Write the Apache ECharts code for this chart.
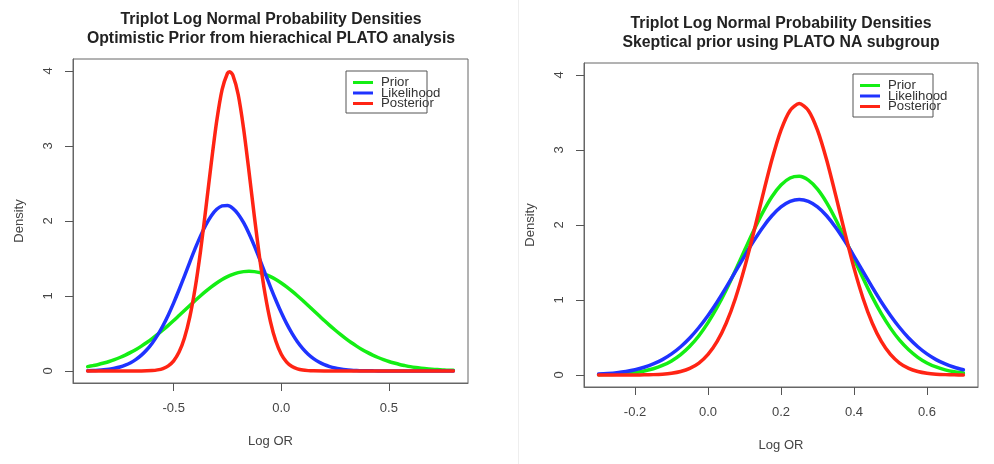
<!DOCTYPE html>
<html><head><meta charset="utf-8">
<script src="https://cdn.jsdelivr.net/npm/echarts@6/dist/echarts.min.js"></script>
<style>html,body{margin:0;padding:0;background:#fff}#c{width:994px;height:464px}</style>
</head><body><div id="c"></div>
<script>
const seriesNames = ['Prior', 'Likelihood', 'Posterior'];
const titleLeft = 'Triplot Log Normal Probability Densities\nOptimistic Prior from hierachical PLATO analysis';
const titleRight = 'Triplot Log Normal Probability Densities\nSkeptical prior using PLATO NA subgroup';
const xName = 'Log OR';
const yName = 'Density';
const leftXTicks = [-0.5, 0, 0.5];
const rightXTicks = [-0.2, 0, 0.2, 0.4, 0.6];
const yTicks = [0, 1, 2, 3, 4];

const leftX = [-0.900,-0.875,-0.850,-0.825,-0.800,-0.775,-0.750,-0.725,-0.700,-0.675,-0.650,-0.625,-0.600,-0.575,-0.550,-0.525,-0.500,-0.475,-0.450,-0.425,-0.400,-0.375,-0.350,-0.325,-0.300,-0.275,-0.250,-0.225,-0.200,-0.175,-0.150,-0.125,-0.100,-0.075,-0.050,-0.025,0.000,0.025,0.050,0.075,0.100,0.125,0.150,0.175,0.200,0.225,0.250,0.275,0.300,0.325,0.350,0.375,0.400,0.425,0.450,0.475,0.500,0.525,0.550,0.575,0.600,0.625,0.650,0.675,0.700,0.725,0.750,0.775,0.800];
const leftPrior = [0.058,0.072,0.087,0.106,0.127,0.152,0.180,0.212,0.248,0.288,0.332,0.380,0.432,0.488,0.547,0.609,0.673,0.740,0.807,0.874,0.940,1.004,1.065,1.122,1.174,1.219,1.258,1.289,1.312,1.325,1.330,1.325,1.312,1.289,1.258,1.219,1.174,1.122,1.065,1.004,0.940,0.874,0.807,0.740,0.673,0.609,0.547,0.488,0.432,0.380,0.332,0.288,0.248,0.212,0.180,0.152,0.127,0.106,0.087,0.072,0.058,0.047,0.038,0.030,0.024,0.019,0.015,0.011,0.009];
const leftLikelihood = [0.004,0.006,0.010,0.016,0.025,0.037,0.054,0.078,0.111,0.155,0.211,0.283,0.371,0.478,0.603,0.748,0.909,1.083,1.266,1.452,1.634,1.802,1.950,2.071,2.156,2.202,2.207,2.169,2.091,1.977,1.834,1.669,1.489,1.303,1.119,0.943,0.779,0.631,0.502,0.391,0.299,0.224,0.165,0.119,0.084,0.059,0.040,0.027,0.017,0.011,0.007,0.004,0.003,0.002,0.001,0.001,0,0,0,0,0,0,0,0,0,0,0,0,0];
const leftPostX = [-0.900,-0.650,-0.600,-0.575,-0.550,-0.525,-0.500,-0.475,-0.450,-0.425,-0.400,-0.375,-0.350,-0.325,-0.300,-0.275,-0.250,-0.240,-0.225,-0.200,-0.175,-0.150,-0.125,-0.100,-0.075,-0.050,-0.025,0.000,0.025,0.050,0.075,0.100,0.125,0.150,0.200,0.800];
const leftPosterior = [0.000,0.001,0.006,0.015,0.033,0.069,0.136,0.252,0.440,0.721,1.109,1.604,2.179,2.780,3.333,3.753,3.970,3.990,3.945,3.683,3.231,2.661,2.060,1.498,1.023,0.656,0.396,0.224,0.119,0.059,0.028,0.012,0.005,0.002,0.000,0.000];

const rightX = [-0.300,-0.275,-0.250,-0.225,-0.200,-0.175,-0.150,-0.125,-0.100,-0.075,-0.050,-0.025,0.000,0.025,0.050,0.075,0.100,0.125,0.150,0.175,0.200,0.225,0.250,0.275,0.300,0.325,0.350,0.375,0.400,0.425,0.450,0.475,0.500,0.525,0.550,0.575,0.600,0.625,0.650,0.675,0.700];
const rightPrior = [0.004,0.007,0.011,0.020,0.032,0.053,0.083,0.127,0.188,0.272,0.383,0.524,0.698,0.904,1.138,1.394,1.661,1.924,2.168,2.377,2.533,2.627,2.649,2.598,2.478,2.299,2.074,1.820,1.553,1.290,1.041,0.818,0.625,0.464,0.336,0.236,0.161,0.107,0.069,0.044,0.027];
const rightLikelihood = [0.012,0.020,0.031,0.047,0.070,0.103,0.147,0.205,0.281,0.377,0.493,0.633,0.794,0.974,1.171,1.377,1.586,1.786,1.968,2.123,2.241,2.315,2.340,2.315,2.241,2.123,1.968,1.786,1.586,1.377,1.171,0.974,0.794,0.633,0.493,0.377,0.281,0.205,0.147,0.103,0.070];
const rightPosterior = [0.000,0.000,0.000,0.000,0.001,0.002,0.005,0.011,0.023,0.046,0.088,0.159,0.274,0.447,0.693,1.021,1.428,1.898,2.395,2.869,3.265,3.528,3.620,3.528,3.265,2.869,2.395,1.898,1.428,1.021,0.693,0.447,0.274,0.159,0.088,0.046,0.023,0.011,0.005,0.002,0.001];

const colors = ['#14ee14', '#1f33ff', '#ff2414'];
const FONT = '"Liberation Sans", Arial, sans-serif';
const pair = (xs, ys) => xs.map((x, i) => [x, ys[i]]);

function xAxis(idx, min, max, ticks) {
  return {
    type: 'value', gridIndex: idx, min: min, max: max,
    name: xName, nameLocation: 'middle', nameGap: 52,
    nameTextStyle: {fontFamily: FONT, fontSize: 13, color: '#444'},
    splitLine: {show: false},
    axisLine: {show: true, onZero: false, lineStyle: {color: '#666', width: 1}},
    axisTick: {show: true, length: 8, customValues: ticks, lineStyle: {color: '#555', width: 1}},
    axisLabel: {customValues: ticks, margin: 19, fontFamily: FONT, fontSize: 13, color: '#444',
      formatter: v => Number(v).toFixed(1)}
  };
}
function yAxis(idx) {
  return {
    type: 'value', gridIndex: idx, min: -0.16, max: 4.16,
    name: yName, nameLocation: 'middle', nameGap: 47, nameRotate: 90,
    nameTextStyle: {fontFamily: FONT, fontSize: 13, color: '#444'},
    splitLine: {show: false},
    axisLine: {show: true, onZero: false, lineStyle: {color: '#666', width: 1}},
    axisTick: {show: true, length: 8, customValues: yTicks, lineStyle: {color: '#555', width: 1}},
    axisLabel: {customValues: yTicks, rotate: 90, margin: 18, fontFamily: FONT, fontSize: 13, color: '#444',
      formatter: v => String(Math.round(v))}
  };
}
function line(name, data, x, y, c) {
  return {name: name, type: 'line', xAxisIndex: x, yAxisIndex: y, data: data,
    showSymbol: false, smooth: 0.25, lineStyle: {width: 3.5, color: c, join: 'round', cap: 'round'},
    itemStyle: {color: c}, silent: true};
}
function legend(left, top) {
  return {show: true, orient: 'vertical', left: left, top: top, data: seriesNames,
    icon: 'rect', itemWidth: 20, itemHeight: 3, itemGap: -2.5, padding: 0,
    textStyle: {fontFamily: FONT, fontSize: 13.2, color: '#333', lineHeight: 13, padding: [0, 0, 0, 3]},
    selectedMode: false};
}

const chart = echarts.init(document.getElementById('c'), null, {renderer: 'canvas'});
chart.setOption({
  animation: false,
  backgroundColor: '#fff',
  color: colors,
  title: [
    {text: titleLeft, left: 266, top: 5, textAlign: 'center',
     textStyle: {fontFamily: FONT, fontSize: 15.8, fontWeight: 'bold', color: '#222', lineHeight: 19}},
    {text: titleRight, left: 776, top: 9, textAlign: 'center',
     textStyle: {fontFamily: FONT, fontSize: 15.8, fontWeight: 'bold', color: '#222', lineHeight: 19}}
  ],
  grid: [
    {left: 73, top: 59, width: 395, height: 324, show: true, borderColor: '#666', borderWidth: 1, backgroundColor: 'transparent'},
    {left: 584, top: 63, width: 394, height: 324, show: true, borderColor: '#666', borderWidth: 1, backgroundColor: 'transparent'}
  ],
  xAxis: [xAxis(0, -0.968, 0.868, leftXTicks), xAxis(1, -0.34, 0.74, rightXTicks)],
  yAxis: [yAxis(0), yAxis(1)],
  legend: [legend(353, 76), legend(860, 79)],
  graphic: [
    {type: 'rect', shape: {x: 346, y: 71, width: 81, height: 42}, style: {fill: 'none', stroke: '#555', lineWidth: 1}, z: 100},
    {type: 'rect', shape: {x: 853, y: 74, width: 80, height: 43}, style: {fill: 'none', stroke: '#555', lineWidth: 1}, z: 100},
    {type: 'line', shape: {x1: 518.5, y1: 0, x2: 518.5, y2: 464}, style: {stroke: '#eeeeee', lineWidth: 1}}
  ],
  series: [
    line('Prior', pair(leftX, leftPrior), 0, 0, colors[0]),
    line('Likelihood', pair(leftX, leftLikelihood), 0, 0, colors[1]),
    line('Posterior', pair(leftPostX, leftPosterior), 0, 0, colors[2]),
    line('Prior', pair(rightX, rightPrior), 1, 1, colors[0]),
    line('Likelihood', pair(rightX, rightLikelihood), 1, 1, colors[1]),
    line('Posterior', pair(rightX, rightPosterior), 1, 1, colors[2])
  ]
});
</script></body></html>
